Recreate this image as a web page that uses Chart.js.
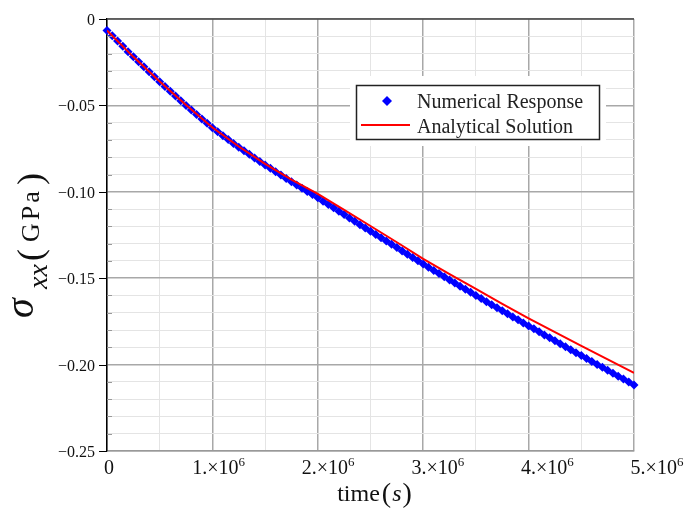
<!DOCTYPE html>
<html>
<head>
<meta charset="utf-8">
<script src="https://cdn.jsdelivr.net/npm/chart.js@4.4.0/dist/chart.umd.min.js"></script>
<style>
    html, body { margin: 0; padding: 0; background: #fff; }
    #wrap { width: 689px; height: 509px; }
</style>
</head>
<body>
<div id="wrap"><canvas id="stress-chart" width="689" height="509"></canvas></div>
<script>
// Numerical response (blue diamonds)
const numericalTime = [
    0.00e6, 0.05e6, 0.10e6, 0.15e6, 0.20e6, 0.25e6, 0.30e6, 0.35e6, 0.40e6, 0.45e6,
    0.50e6, 0.55e6, 0.60e6, 0.65e6, 0.70e6, 0.75e6, 0.80e6, 0.85e6, 0.90e6, 0.95e6,
    1.00e6, 1.05e6, 1.10e6, 1.15e6, 1.20e6, 1.25e6, 1.30e6, 1.35e6, 1.40e6, 1.45e6,
    1.50e6, 1.55e6, 1.60e6, 1.65e6, 1.70e6, 1.75e6, 1.80e6, 1.85e6, 1.90e6, 1.95e6,
    2.00e6, 2.05e6, 2.10e6, 2.15e6, 2.20e6, 2.25e6, 2.30e6, 2.35e6, 2.40e6, 2.45e6,
    2.50e6, 2.55e6, 2.60e6, 2.65e6, 2.70e6, 2.75e6, 2.80e6, 2.85e6, 2.90e6, 2.95e6,
    3.00e6, 3.05e6, 3.10e6, 3.15e6, 3.20e6, 3.25e6, 3.30e6, 3.35e6, 3.40e6, 3.45e6,
    3.50e6, 3.55e6, 3.60e6, 3.65e6, 3.70e6, 3.75e6, 3.80e6, 3.85e6, 3.90e6, 3.95e6,
    4.00e6, 4.05e6, 4.10e6, 4.15e6, 4.20e6, 4.25e6, 4.30e6, 4.35e6, 4.40e6, 4.45e6,
    4.50e6, 4.55e6, 4.60e6, 4.65e6, 4.70e6, 4.75e6, 4.80e6, 4.85e6, 4.90e6, 4.95e6,
    5.00e6
];
const numericalStress = [
    -0.0067, -0.0097, -0.0128, -0.0158, -0.0189, -0.0219, -0.0248, -0.0277, -0.0305, -0.0334,
    -0.0363, -0.0390, -0.0418, -0.0445, -0.0473, -0.0500, -0.0526, -0.0552, -0.0578, -0.0604,
    -0.0630, -0.0652, -0.0675, -0.0697, -0.0720, -0.0742, -0.0763, -0.0783, -0.0804, -0.0824,
    -0.0845, -0.0864, -0.0884, -0.0903, -0.0923, -0.0942, -0.0961, -0.0979, -0.0998, -0.1016,
    -0.1035, -0.1054, -0.1074, -0.1093, -0.1113, -0.1132, -0.1151, -0.1170, -0.1190, -0.1209,
    -0.1228, -0.1247, -0.1266, -0.1285, -0.1304, -0.1323, -0.1342, -0.1361, -0.1380, -0.1399,
    -0.1418, -0.1436, -0.1455, -0.1473, -0.1492, -0.1510, -0.1528, -0.1546, -0.1564, -0.1582,
    -0.1600, -0.1618, -0.1636, -0.1653, -0.1671, -0.1689, -0.1706, -0.1724, -0.1741, -0.1759,
    -0.1776, -0.1793, -0.1810, -0.1828, -0.1845, -0.1862, -0.1879, -0.1896, -0.1914, -0.1931,
    -0.1948, -0.1965, -0.1982, -0.1999, -0.2016, -0.2033, -0.2050, -0.2067, -0.2084, -0.2101,
    -0.2118
];

// Analytical solution (red line)
const analyticalTime = [
    0.00e6, 0.25e6, 0.50e6, 0.75e6, 1.00e6, 1.25e6, 1.50e6, 1.75e6, 2.00e6, 2.25e6,
    2.50e6, 2.75e6, 3.00e6, 3.25e6, 3.50e6, 3.75e6, 4.00e6, 4.25e6, 4.50e6, 4.75e6,
    5.00e6
];
const analyticalStress = [
    -0.0067, -0.0219, -0.0362, -0.0498, -0.0628, -0.0738, -0.0838, -0.0930, -0.1012, -0.1105,
    -0.1198, -0.1292, -0.1388, -0.1476, -0.1562, -0.1648, -0.1732, -0.1812, -0.1892, -0.1970,
    -0.2048
];

// Axis ticks
const xTickValues = [0, 1e6, 2e6, 3e6, 4e6, 5e6];
const xTickLabels = ['0', '1.\u00d710^6', '2.\u00d710^6', '3.\u00d710^6', '4.\u00d710^6', '5.\u00d710^6'];
const yTickValues = [0, -0.05, -0.10, -0.15, -0.20, -0.25];
const yTickLabels = ['0', '\u22120.05', '\u22120.10', '\u22120.15', '\u22120.20', '\u22120.25'];

const seriesNames = ['Numerical Response', 'Analytical Solution'];

const SERIF = '"Liberation Serif", "Times New Roman", serif';
const TEXT = '#111';

function toPoints(xs, ys) {
    return xs.map((x, i) => ({ x: x, y: ys[i] }));
}

// axis labels, titles, borders and the boxed legend
const maplePlot = {
    id: 'maplePlot',
    afterDraw(chart) {
        const { ctx, chartArea: a, scales: { x, y } } = chart;
        ctx.save();

        // top border
        ctx.strokeStyle = '#444';
        ctx.lineWidth = 1.5;
        ctx.beginPath();
        ctx.moveTo(a.left, a.top);
        ctx.lineTo(a.right, a.top);
        ctx.stroke();

        // left axis tick marks
        y.ticks.forEach(t => {
            const py = Math.round(y.getPixelForValue(t.value)) + 0.5;
            const major = Math.round(t.value * 100) % 5 === 0;
            ctx.beginPath();
            if (major) {
                ctx.strokeStyle = '#000';
                ctx.lineWidth = 1;
                ctx.moveTo(a.left - 8, py);
                ctx.lineTo(a.left, py);
            } else {
                ctx.strokeStyle = '#999';
                ctx.lineWidth = 1;
                ctx.moveTo(a.left, py);
                ctx.lineTo(a.left + 5, py);
            }
            ctx.stroke();
        });

        // y tick labels
        ctx.fillStyle = TEXT;
        ctx.font = '16px ' + SERIF;
        ctx.textAlign = 'right';
        ctx.textBaseline = 'alphabetic';
        yTickValues.forEach((v, i) => {
            ctx.fillText(yTickLabels[i], a.left - 12, y.getPixelForValue(v) + 6);
        });

        // x tick labels with superscript exponent
        ctx.textAlign = 'left';
        xTickValues.forEach((v, i) => {
            const parts = xTickLabels[i].split('^');
            ctx.font = '20px ' + SERIF;
            const w1 = ctx.measureText(parts[0]).width;
            let w2 = 0;
            if (parts[1]) {
                ctx.font = '13px ' + SERIF;
                w2 = ctx.measureText(parts[1]).width;
            }
            const cx = x.getPixelForValue(v) + 2 + 4.2 * i;
            const sx = cx - (w1 + w2) / 2;
            ctx.font = '20px ' + SERIF;
            ctx.fillText(parts[0], sx, 474);
            if (parts[1]) {
                ctx.font = '13px ' + SERIF;
                ctx.fillText(parts[1], sx + w1, 466);
            }
        });

        // x title: time (s)
        const xc = (a.left + a.right) / 2;
        ctx.font = '24px ' + SERIF;
        const wTime = ctx.measureText('time').width;
        ctx.font = '28px ' + SERIF;
        const wParen = ctx.measureText('(').width;
        ctx.font = 'italic 24px ' + SERIF;
        const wS = ctx.measureText('s').width;
        const totalW = wTime + 2 + wParen * 2 + wS + 2;
        let tx = xc - totalW / 2 + 4;
        ctx.font = '24px ' + SERIF;
        ctx.fillText('time', tx, 501);
        tx += wTime + 2;
        ctx.font = '28px ' + SERIF;
        ctx.fillText('(', tx, 502);
        tx += wParen + 1;
        ctx.font = 'italic 24px ' + SERIF;
        ctx.fillText('s', tx, 501);
        tx += wS + 1;
        ctx.font = '28px ' + SERIF;
        ctx.fillText(')', tx, 502);

        // y title: sigma_xx (GPa), rotated
        const rot = (txt, font, bx, by, spacing) => {
            ctx.save();
            ctx.translate(bx, by);
            ctx.rotate(-Math.PI / 2);
            ctx.font = font;
            if (spacing) ctx.letterSpacing = spacing;
            ctx.fillText(txt, 0, 0);
            ctx.restore();
        };
        rot('\u03c3', 'italic 40px ' + SERIF, 33, 318);
        rot('xx', 'italic 28px ' + SERIF, 47, 289);
        rot('(', '36px ' + SERIF, 42, 261);
        rot('GPa', '26px ' + SERIF, 39, 242, '3px');
        rot(')', '36px ' + SERIF, 42, 185);

        // legend
        ctx.fillStyle = '#fff';
        ctx.fillRect(350, 76, 256, 70);
        ctx.strokeStyle = '#222';
        ctx.lineWidth = 1.5;
        ctx.strokeRect(356.5, 85.5, 243, 54);

        ctx.fillStyle = '#0000ff';
        ctx.beginPath();
        ctx.moveTo(387, 96);
        ctx.lineTo(392, 101);
        ctx.lineTo(387, 106);
        ctx.lineTo(382, 101);
        ctx.closePath();
        ctx.fill();

        ctx.strokeStyle = '#ff0000';
        ctx.lineWidth = 2;
        ctx.beginPath();
        ctx.moveTo(361, 125);
        ctx.lineTo(410, 125);
        ctx.stroke();

        ctx.fillStyle = '#222';
        ctx.font = '20px ' + SERIF;
        ctx.textAlign = 'left';
        ctx.fillText(seriesNames[0], 417, 108);
        ctx.fillText(seriesNames[1], 417, 133);

        ctx.restore();
    }
};

document.addEventListener('DOMContentLoaded', () => {
    const ctx = document.getElementById('stress-chart').getContext('2d');
    new Chart(ctx, {
        data: {
            datasets: [
                {
                    type: 'line',
                    label: seriesNames[1],
                    data: toPoints(analyticalTime, analyticalStress),
                    borderColor: '#ff0000',
                    borderWidth: 2,
                    pointRadius: 0,
                    tension: 0,
                    fill: false,
                    order: 0
                },
                {
                    type: 'scatter',
                    label: seriesNames[0],
                    data: toPoints(numericalTime, numericalStress),
                    pointStyle: 'rectRot',
                    pointRadius: 4.5,
                    backgroundColor: '#0000ff',
                    borderColor: '#0000ff',
                    borderWidth: 0,
                    clip: false,
                    order: 1
                }
            ]
        },
        options: {
            responsive: false,
            animation: false,
            layout: {
                padding: { left: 107, right: 55, top: 19, bottom: 58 }
            },
            plugins: {
                legend: { display: false },
                tooltip: { enabled: false }
            },
            scales: {
                x: {
                    type: 'linear',
                    min: 0,
                    max: 5e6,
                    ticks: { display: false, stepSize: 5e5, maxTicksLimit: 100 },
                    grid: {
                        drawTicks: false,
                        color: c => (Math.round(c.tick.value / 5e5) % 2 === 0 ? '#a8a8a8' : '#e4e4e4'),
                        lineWidth: c => (Math.round(c.tick.value / 5e5) % 2 === 0 ? 1.5 : 1)
                    },
                    border: { color: '#999', width: 1.5 }
                },
                y: {
                    type: 'linear',
                    min: -0.25,
                    max: 0,
                    ticks: { display: false, stepSize: 0.01, maxTicksLimit: 100 },
                    grid: {
                        drawTicks: false,
                        color: c => (Math.round(c.tick.value * 100) % 5 === 0 ? '#a8a8a8' : '#e4e4e4'),
                        lineWidth: c => (Math.round(c.tick.value * 100) % 5 === 0 ? 1.5 : 1)
                    },
                    border: { color: '#000', width: 1.5 }
                }
            }
        },
        plugins: [maplePlot]
    });
});
</script>
</body>
</html>
